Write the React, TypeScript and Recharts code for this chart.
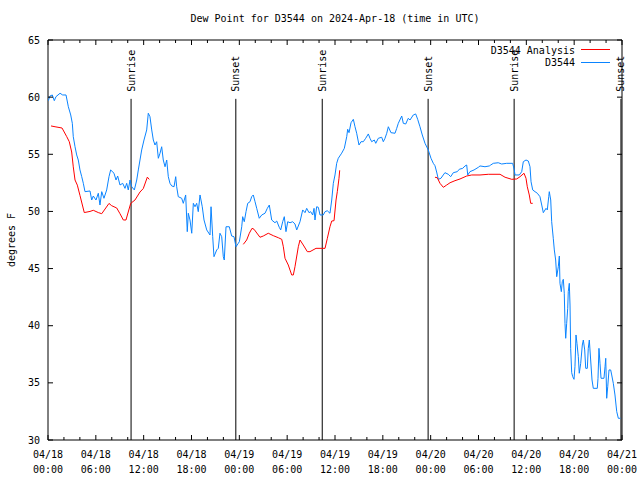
import React from 'react';
import { LineChart, Line, XAxis, YAxis, ReferenceLine, ReferenceArea, Legend } from 'recharts';

// ---- axis / tick data ----
const xTickHours = [0, 2, 4, 6, 8, 10, 12, 14, 16, 18, 20, 22, 24, 26, 28, 30, 32, 34, 36, 38, 40, 42, 44, 46, 48, 50, 52, 54, 56, 58, 60, 62, 64, 66, 68, 70, 72];
const xTickDates = ['04/18', '04/18', '04/18', '04/18', '04/19', '04/19', '04/19', '04/19', '04/20', '04/20', '04/20', '04/20', '04/21'];
const xTickTimes = ['00:00', '06:00', '12:00', '18:00', '00:00', '06:00', '12:00', '18:00', '00:00', '06:00', '12:00', '18:00', '00:00'];
const yTicks = [30, 35, 40, 45, 50, 55, 60, 65];

// ---- sunrise / sunset (hours since 04/18 00:00 UTC) ----
const sunHours = [10.42, 23.56, 34.4, 47.68, 58.47, 71.87];
const sunNames = ['Sunrise', 'Sunset', 'Sunrise', 'Sunset', 'Sunrise', 'Sunset'];

// ---- series names / colours ----
const seriesNames = ['D3544 Analysis', 'D3544'];
const seriesColors = ['#ff0000', '#0a84ff'];

// ---- D3544 observations: [hour, dew point F] ----
const stationObs: [number, number][] = [
  [0.04, 59.69], [0.25, 60.1], [0.54, 60.19], [0.79, 59.69], [1.0, 60.04], [1.51, 60.34], [1.84, 60.19], [2.26, 60.19],
  [2.55, 59.16], [2.85, 58.44], [3.05, 57.71], [3.17, 56.54], [3.39, 55.66], [3.6, 54.94], [3.8, 54.5], [4.01, 53.63],
  [4.23, 53.04], [4.43, 52.46], [4.64, 51.73], [5.27, 51.79], [5.48, 51.0], [5.68, 51.35], [6.02, 51.0], [6.31, 51.59],
  [6.52, 50.56], [6.74, 51.73], [7.02, 51.15], [7.36, 51.88], [7.65, 53.04], [7.86, 53.63], [8.28, 53.34], [8.53, 52.75],
  [8.74, 53.1], [9.03, 52.31], [9.37, 52.46], [9.66, 52.02], [9.87, 52.46], [10.07, 51.88], [10.29, 52.75], [10.5, 52.16],
  [10.83, 51.88], [11.13, 52.75], [11.33, 53.63], [11.54, 54.5], [11.75, 55.38], [12.04, 56.25], [12.38, 57.13], [12.58, 58.59],
  [12.79, 58.29], [13.01, 57.13], [13.21, 56.25], [13.42, 55.81], [13.63, 56.1], [13.84, 54.65], [14.05, 55.09], [14.26, 55.66],
  [14.46, 54.5], [14.68, 53.91], [14.89, 54.5], [15.09, 53.04], [15.3, 52.46], [15.52, 52.23], [15.81, 52.16], [16.02, 53.04],
  [16.14, 52.16], [16.34, 51.29], [16.77, 51.15], [16.97, 50.71], [17.27, 51.44], [17.47, 48.23], [17.6, 49.84], [17.81, 49.25],
  [18.03, 48.09], [18.23, 50.71], [18.44, 50.41], [18.65, 50.71], [18.85, 49.98], [19.07, 51.44], [19.35, 50.41], [19.57, 49.25],
  [19.91, 48.38], [20.32, 47.94], [20.45, 50.41], [20.66, 47.79], [20.82, 46.04], [21.16, 46.63], [21.36, 46.77], [21.57, 48.09],
  [21.79, 47.79], [21.99, 46.04], [22.11, 45.75], [22.33, 48.66], [22.74, 48.66], [23.04, 47.85], [23.33, 47.79], [23.58, 46.91],
  [23.87, 47.21], [24.0, 47.35], [24.3, 48.66], [24.42, 49.54], [24.62, 49.1], [24.84, 49.98], [25.05, 50.71], [25.34, 50.85],
  [25.55, 51.29], [25.75, 51.44], [25.97, 50.85], [26.18, 50.27], [26.5, 49.4], [26.81, 49.69], [27.22, 49.84], [27.51, 50.27],
  [27.76, 50.56], [28.06, 49.25], [28.47, 49.01], [28.69, 49.16], [29.01, 48.61], [29.19, 48.38], [29.44, 49.1], [29.64, 49.54],
  [29.85, 48.23], [30.07, 49.1], [30.36, 49.01], [30.69, 49.1], [30.98, 48.9], [31.2, 48.38], [31.61, 49.1], [31.95, 50.13],
  [32.24, 49.89], [32.45, 50.27], [32.74, 49.89], [32.95, 49.98], [33.2, 49.69], [33.37, 50.27], [33.49, 49.25], [33.7, 50.41],
  [33.91, 50.36], [34.12, 49.69], [34.53, 49.69], [34.75, 49.98], [35.03, 50.06], [35.37, 49.84], [35.59, 51.0], [35.79, 52.46],
  [36.0, 53.19], [36.21, 54.21], [36.41, 54.65], [36.84, 55.1], [37.17, 55.52], [37.47, 56.54], [37.59, 57.19], [37.76, 56.89],
  [38.01, 57.76], [38.3, 58.06], [38.51, 57.41], [38.72, 56.84], [39.01, 55.81], [39.26, 56.1], [39.55, 56.1], [39.85, 56.4],
  [40.18, 56.78], [40.39, 56.4], [40.6, 56.1], [40.93, 56.25], [41.11, 55.96], [41.43, 56.4], [41.86, 56.49], [42.06, 56.1],
  [42.27, 56.4], [42.49, 56.84], [42.69, 57.41], [43.02, 56.89], [43.53, 56.84], [43.74, 57.27], [43.94, 57.71], [44.37, 58.35],
  [44.57, 57.71], [44.87, 57.65], [45.19, 58.15], [45.41, 58.0], [45.82, 58.44], [46.12, 58.53], [46.37, 58.06], [46.66, 57.41],
  [46.95, 56.69], [47.29, 55.96], [47.7, 55.38], [48.04, 54.65], [48.33, 54.21], [48.54, 54.0], [48.75, 53.45], [48.96, 52.81],
  [49.29, 52.9], [49.58, 53.19], [49.79, 53.39], [50.21, 53.25], [50.51, 53.04], [50.84, 53.39], [51.34, 53.48], [51.59, 53.69],
  [52.02, 53.77], [52.31, 53.98], [52.52, 54.06], [52.65, 53.19], [52.93, 53.48], [53.44, 53.63], [53.98, 53.86], [54.19, 53.98],
  [54.81, 53.91], [55.36, 53.98], [55.53, 54.06], [55.86, 54.21], [56.48, 54.26], [56.91, 54.15], [57.54, 54.21], [58.29, 54.21],
  [58.49, 53.63], [58.58, 53.19], [59.12, 53.19], [59.42, 53.48], [59.62, 54.35], [59.96, 54.5], [60.25, 54.41], [60.46, 53.91],
  [60.59, 52.6], [60.8, 51.88], [61.09, 51.73], [61.38, 51.59], [61.71, 51.29], [61.93, 50.56], [62.13, 49.89], [62.47, 50.27],
  [62.63, 50.13], [62.81, 51.29], [62.88, 51.73], [63.06, 51.0], [63.18, 49.1], [63.38, 47.65], [63.51, 46.63], [63.68, 45.75],
  [63.81, 44.29], [64.01, 45.16], [64.14, 46.1], [64.22, 43.71], [64.39, 42.98], [64.51, 43.85], [64.64, 44.06], [64.76, 42.84],
  [64.85, 40.21], [64.94, 38.9], [65.06, 40.21], [65.19, 41.52], [65.26, 42.98], [65.39, 43.71], [65.48, 41.81], [65.56, 38.02],
  [65.69, 35.89], [65.82, 35.54], [65.98, 35.31], [66.1, 36.41], [66.23, 39.19], [66.35, 38.46], [66.52, 37.29], [66.64, 35.84],
  [66.82, 36.71], [67.02, 38.31], [67.15, 38.75], [67.32, 37.88], [67.45, 36.27], [67.65, 36.27], [67.77, 38.02], [67.9, 38.75],
  [68.07, 37.0], [68.24, 35.25], [68.4, 34.52], [68.9, 34.52], [68.99, 35.4], [69.11, 38.02], [69.24, 36.71], [69.37, 35.4],
  [69.74, 35.4], [69.87, 36.41], [69.96, 37.15], [70.08, 33.65], [70.21, 34.66], [70.37, 36.13], [70.58, 36.13], [70.71, 35.69],
  [70.91, 34.96], [71.12, 33.94], [71.25, 33.06], [71.34, 32.48], [71.54, 31.9], [71.81, 31.9],
];

// ---- D3544 Analysis, three 12-hour segments: [hour, dew point F] ----
const analysisDay1: [number, number][] = [
  [0.38, 57.48], [0.88, 57.41], [1.76, 57.3], [2.35, 56.54], [2.67, 56.1], [2.97, 55.2], [3.17, 53.9], [3.39, 52.75],
  [3.68, 52.3], [4.01, 51.4], [4.55, 49.9], [5.27, 50.0], [5.68, 50.1], [6.31, 49.9], [6.74, 49.8], [7.65, 50.7],
  [7.99, 50.5], [8.62, 50.3], [9.03, 49.8], [9.45, 49.25], [9.78, 49.25], [10.37, 50.7], [10.91, 51.0], [11.54, 51.7],
  [11.95, 52.0], [12.46, 53.0], [12.7, 52.8],
];
const analysisDay2: [number, number][] = [
  [24.5, 47.12], [24.92, 47.5], [25.25, 48.09], [25.59, 48.52], [25.84, 48.44], [26.59, 47.74], [27.0, 47.85], [27.63, 48.09],
  [28.26, 47.88], [28.89, 47.7], [29.32, 47.56], [29.52, 46.91], [29.73, 45.9], [30.14, 45.31], [30.57, 44.44], [30.77, 44.44],
  [30.98, 45.16], [31.4, 46.91], [31.61, 47.5], [32.02, 47.06], [32.53, 46.48], [32.86, 46.48], [33.62, 46.77], [34.75, 46.77],
  [35.04, 47.65], [35.37, 48.66], [35.59, 49.16], [35.88, 49.19], [36.13, 51.0], [36.29, 51.73], [36.5, 52.9], [36.59, 53.6],
];
const analysisDay3: [number, number][] = [
  [48.54, 52.99], [48.83, 52.95], [49.17, 52.46], [49.59, 52.11], [50.01, 52.31], [50.43, 52.51], [51.05, 52.69], [51.68, 52.84],
  [52.52, 53.1], [53.15, 53.19], [54.19, 53.19], [55.23, 53.25], [56.7, 53.25], [57.33, 52.99], [58.17, 52.81], [58.79, 52.84],
  [59.21, 53.04], [59.71, 53.34], [59.96, 52.9], [60.12, 52.16], [60.37, 51.44], [60.55, 50.71], [60.8, 50.71],
];

const toRows = (pts: [number, number][]) => pts.map(([h, v]) => ({ h, v }));
const stationData = toRows(stationObs);
const analysisData = [
  ...toRows(analysisDay1),
  { h: 18, v: null },
  ...toRows(analysisDay2),
  { h: 42, v: null },
  ...toRows(analysisDay3),
];

// ---- layout ----
const W = 640;
const H = 480;
const MARGIN = { top: 40, right: 18, bottom: 0, left: 0 };
const PLOT_TOP = MARGIN.top;
const PLOT_RIGHT = W - MARGIN.right;
const FONT = '"DejaVu Sans Mono", "Liberation Mono", monospace';

function XTick(props: any) {
  const { x, y, payload } = props;
  const h = payload.value as number;
  const major = h % 6 === 0;
  const len = major ? 5 : 3;
  const idx = Math.round(h / 6);
  return (
    <g>
      <line x1={x} x2={x} y1={y} y2={y - len} stroke="#000" strokeWidth={1} />
      <line x1={x} x2={x} y1={PLOT_TOP} y2={PLOT_TOP + len} stroke="#000" strokeWidth={1} />
      {major && (
        <text x={x} y={y + 18} textAnchor="middle" fontFamily={FONT} fontSize={10} fill="#000">
          {xTickDates[idx]}
        </text>
      )}
      {major && (
        <text x={x} y={y + 33} textAnchor="middle" fontFamily={FONT} fontSize={10} fill="#000">
          {xTickTimes[idx]}
        </text>
      )}
    </g>
  );
}

function YTick(props: any) {
  const { x, y, payload } = props;
  return (
    <g>
      <line x1={x} x2={x + 5} y1={y} y2={y} stroke="#000" strokeWidth={1} />
      <line x1={PLOT_RIGHT} x2={PLOT_RIGHT - 5} y1={y} y2={y} stroke="#000" strokeWidth={1} />
      <text x={x - 8} y={y + 3.5} textAnchor="end" fontFamily={FONT} fontSize={10} fill="#000">
        {payload.value}
      </text>
    </g>
  );
}

function YTitle(props: any) {
  const vb = props.viewBox || { x: 0, y: 40, width: 48, height: 400 };
  const cx = vb.x + 11;
  const cy = vb.y + vb.height / 2;
  return (
    <text x={cx} y={cy} transform={`rotate(-90, ${cx}, ${cy})`} textAnchor="middle" dominantBaseline="central" fontFamily={FONT} fontSize={10} fill="#000">
      degrees F
    </text>
  );
}

function SunLabel(props: any) {
  const vb = props.viewBox || { x: 0, y: 99 };
  const cx = vb.x;
  const cy = vb.y - 7;
  return (
    <text x={cx} y={cy} transform={`rotate(-90, ${cx}, ${cy})`} textAnchor="start" dominantBaseline="central" fontFamily={FONT} fontSize={10} fill="#000">
      {props.text}
    </text>
  );
}

function LegendBox() {
  return (
    <svg width={150} height={30} style={{ display: 'block', overflow: 'visible' }}>
      {seriesNames.map((name, i) => (
        <g key={name}>
          <text x={105} y={8.5 + i * 12} textAnchor="end" dominantBaseline="central" fontFamily={FONT} fontSize={10} fill="#000">
            {name}
          </text>
          <line x1={111} x2={140} y1={7.5 + i * 13} y2={7.5 + i * 13} stroke={seriesColors[i]} strokeWidth={1} />
        </g>
      ))}
    </svg>
  );
}

export default function App() {
  return (
    <div style={{ position: 'absolute', left: 0, top: 0, width: W, height: H, background: '#fff' }}>
      <div
        style={{
          position: 'absolute',
          left: 48,
          top: 13,
          width: 574,
          height: 12,
          lineHeight: '12px',
          textAlign: 'center',
          fontFamily: FONT,
          fontSize: 10,
          color: '#000',
          whiteSpace: 'pre',
        }}
      >
        Dew Point for D3544 on 2024-Apr-18 (time in UTC)
      </div>
      <LineChart width={W} height={H} margin={MARGIN}>
        <XAxis
          dataKey="h"
          type="number"
          domain={[0, 72]}
          ticks={xTickHours}
          interval={0}
          allowDataOverflow
          tick={<XTick />}
          tickLine={false}
          axisLine={false}
          tickSize={0}
          tickMargin={0}
          height={40}
        />
        <YAxis
          type="number"
          domain={[30, 65]}
          ticks={yTicks}
          interval={0}
          allowDataOverflow
          tick={<YTick />}
          tickLine={false}
          axisLine={false}
          tickSize={0}
          tickMargin={0}
          width={48}
          label={<YTitle />}
        />
        <ReferenceArea x1={0} x2={72} y1={30} y2={65} fill="none" fillOpacity={0} stroke="#000" strokeWidth={1} />
        {sunHours.map((h, i) => (
          <ReferenceLine
            key={`sun${i}`}
            segment={[{ x: h, y: 30 }, { x: h, y: 59.85 }]}
            stroke="#000"
            strokeWidth={1}
            label={<SunLabel text={sunNames[i]} />}
          />
        ))}
        <Line
          data={stationData}
          dataKey="v"
          name={seriesNames[1]}
          stroke={seriesColors[1]}
          strokeWidth={1}
          dot={false}
          activeDot={false}
          isAnimationActive={false}
        />
        <Line
          data={analysisData}
          dataKey="v"
          name={seriesNames[0]}
          stroke={seriesColors[0]}
          strokeWidth={1}
          dot={false}
          activeDot={false}
          connectNulls={false}
          isAnimationActive={false}
        />
        <Legend
          layout="horizontal"
          verticalAlign="middle"
          align="center"
          wrapperStyle={{ position: 'absolute', left: 470, top: 42, width: 150, height: 30 }}
          content={<LegendBox />}
        />
      </LineChart>
    </div>
  );
}
